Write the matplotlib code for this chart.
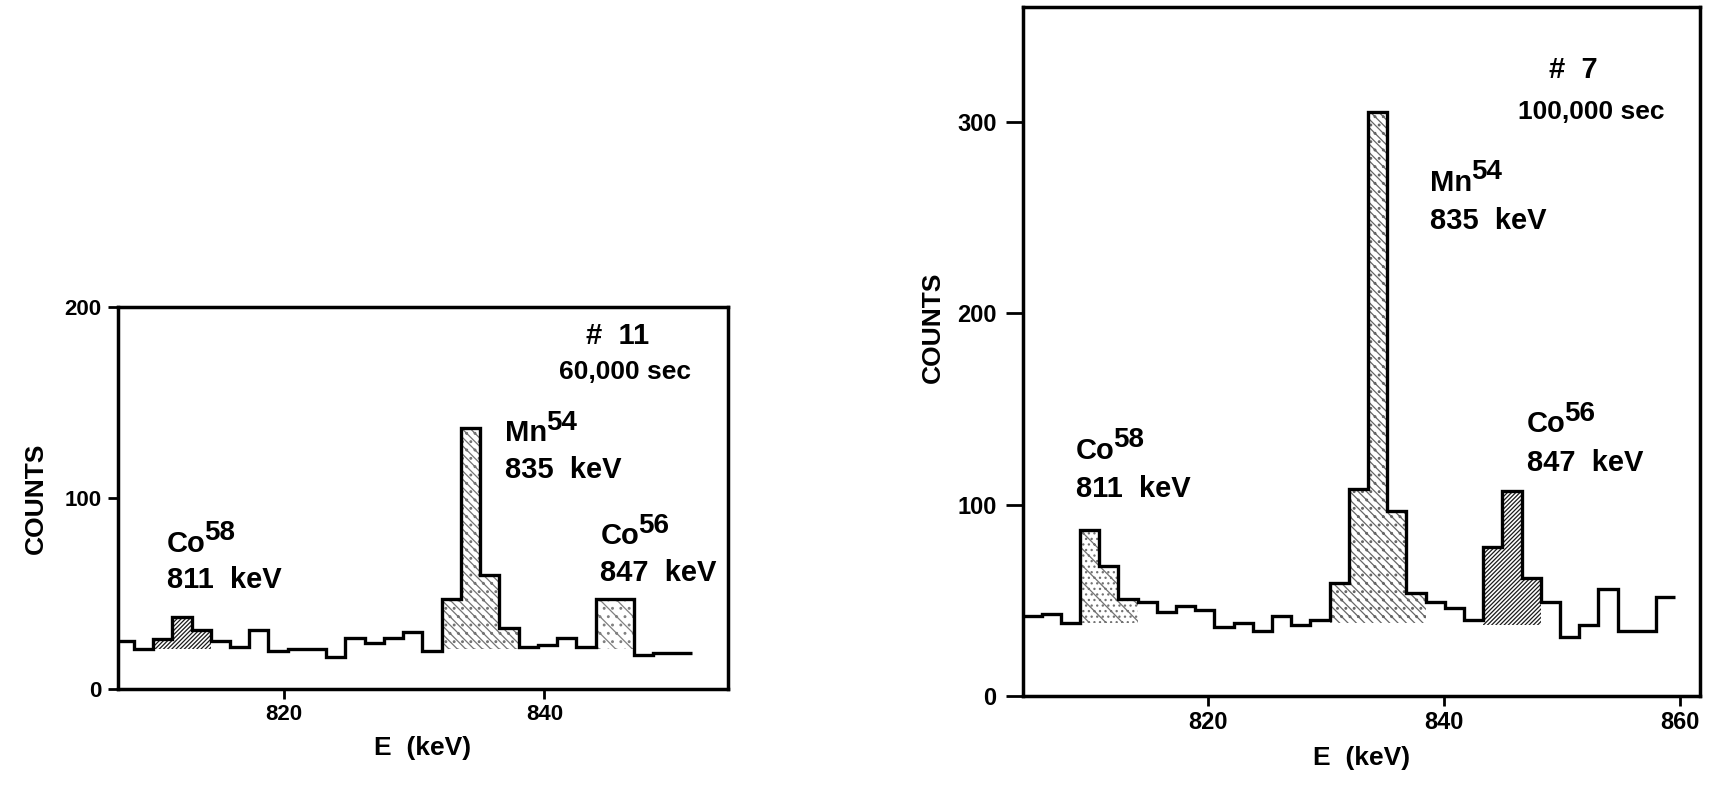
import numpy as np
import matplotlib
matplotlib.use("Agg")
import matplotlib.pyplot as plt

# ---------------- data ----------------
# Left spectrum: sample #11, 60,000 sec
left_start_kev = 807.0
left_bin_kev = 1.477
left_counts = [25, 21, 26, 38, 31, 25, 22, 31, 20, 21, 21, 17, 27, 24, 27,
               30, 20, 47, 137, 60, 32, 22, 23, 27, 22, 47, 47, 18, 19, 19]
# peaks: (first bin, last bin + 1, continuum level)
left_peaks = [(2, 5, 21), (17, 21, 21), (25, 27, 21)]
left_xlim = (807.26, 854.1)
left_ylim = (0, 200)
left_xticks = [820, 840]
left_yticks = [0, 100, 200]

# Right spectrum: sample #7, 100,000 sec
right_start_kev = 804.25
right_bin_kev = 1.627
right_counts = [42, 43, 38, 87, 68, 51, 49, 44, 47, 45, 36, 38, 34, 42, 37,
                40, 59, 108, 305, 97, 54, 49, 46, 40, 78, 107, 62, 49, 31, 37,
                56, 34, 34, 52]
right_peaks = [(3, 6, 38), (16, 21, 38), (24, 27, 37)]
right_xlim = (804.3, 861.7)
right_ylim = (0, 360)
right_xticks = [820, 840, 860]
right_yticks = [0, 100, 200, 300]

# annotations: (isotope, mass number, energy label, x keV, y counts)
left_labels = [("Co", "58", "811  keV", 811.0, 76),
               ("Mn", "54", "835  keV", 837.0, 134),
               ("Co", "56", "847  keV", 844.3, 80)]
right_labels = [("Co", "58", "811  keV", 808.8, 128),
                ("Mn", "54", "835  keV", 838.8, 268),
                ("Co", "56", "847  keV", 847.0, 142)]
# run id, live time, x of id, y of id, x of live time, y of live time (keV, counts)
left_run = ("#  11", "60,000 sec", 845.6, 185, 846.2, 166)
right_run = ("#  7", "100,000 sec", 850.9, 327, 852.5, 305)

# ---------------- style ----------------
plt.rcParams["font.family"] = ["Liberation Sans", "DejaVu Sans"]
plt.rcParams["hatch.linewidth"] = 0.9
FS = 20

fig = plt.figure(figsize=(17.19, 7.92), dpi=100)
axL = fig.add_axes([0.0686, 0.130, 0.355, 0.482])
axR = fig.add_axes([0.5951, 0.121, 0.394, 0.870])

left_hatches = [("////////", "0.1"), ("\\\\\\\\..", "0.45"), ("\\\\..", "0.5")]
right_hatches = [("\\\\...", "0.45"), ("\\\\\\\\..", "0.4"), ("////////", "0.1")]


def draw_panel(ax, start, width, counts, peaks, hatches, xlim, ylim,
               xticks, yticks, labels, run, dy_line, ylab_xy, tick_cfg):
    counts = np.asarray(counts, dtype=float)
    edges = start + width * np.arange(len(counts) + 1)
    # shaded peak regions above continuum
    for (i0, i1, base), (h, c) in zip(peaks, hatches):
        xs = edges[i0:i1 + 1]
        ys = np.r_[counts[i0:i1], counts[i1 - 1]]
        ax.fill_between(xs, base, ys, step="post", facecolor="white",
                        edgecolor=c, hatch=h, linewidth=0, zorder=2)
    ax.stairs(counts, edges, baseline=None, color="black", linewidth=2.4,
              zorder=3)
    ax.set_xlim(*xlim)
    ax.set_ylim(*ylim)
    ax.set_xticks(xticks)
    ax.set_yticks(yticks)
    size, ylen, ypad = tick_cfg
    ax.tick_params(axis="x", direction="out", length=7, width=2,
                   labelsize=size, pad=4)
    ax.tick_params(axis="y", direction="out", length=ylen, width=2,
                   labelsize=size, pad=ypad)
    for lab in ax.get_xticklabels() + ax.get_yticklabels():
        lab.set_fontweight("bold")
    for s in ax.spines.values():
        s.set_linewidth(2.5)
    ax.set_xlabel("E  (keV)", fontsize=FS - 1, fontweight="bold", labelpad=8)
    ax.set_ylabel("COUNTS", fontsize=FS - 1, fontweight="bold")
    ax.yaxis.set_label_coords(*ylab_xy)
    for iso, mass, energy, x, y in labels:
        t = ax.text(x, y, iso, fontsize=FS + 1, fontweight="bold",
                    ha="left", va="center", zorder=4)
        ax.annotate(mass, xy=(1, 1), xycoords=t, xytext=(-1, 7),
                    textcoords="offset points", ha="left", va="top",
                    fontsize=FS, fontweight="bold")
        ax.text(x, y - dy_line, energy, fontsize=FS + 1, fontweight="bold",
                ha="left", va="center", zorder=4)
    num, dur, x1, y1, x2, y2 = run
    ax.text(x1, y1, num, fontsize=FS + 1, fontweight="bold",
            ha="center", va="center")
    ax.text(x2, y2, dur, fontsize=FS - 1, fontweight="bold",
            ha="center", va="center")


draw_panel(axL, left_start_kev, left_bin_kev, left_counts, left_peaks,
           left_hatches, left_xlim, left_ylim, left_xticks, left_yticks,
           left_labels, left_run, 19, (-0.114, 0.5), (16, 7, 5))
draw_panel(axR, right_start_kev, right_bin_kev, right_counts, right_peaks,
           right_hatches, right_xlim, right_ylim, right_xticks, right_yticks,
           right_labels, right_run, 20, (-0.115, 0.535), (17, 12, 7))

fig.savefig("out.png", dpi=100, facecolor="white")
